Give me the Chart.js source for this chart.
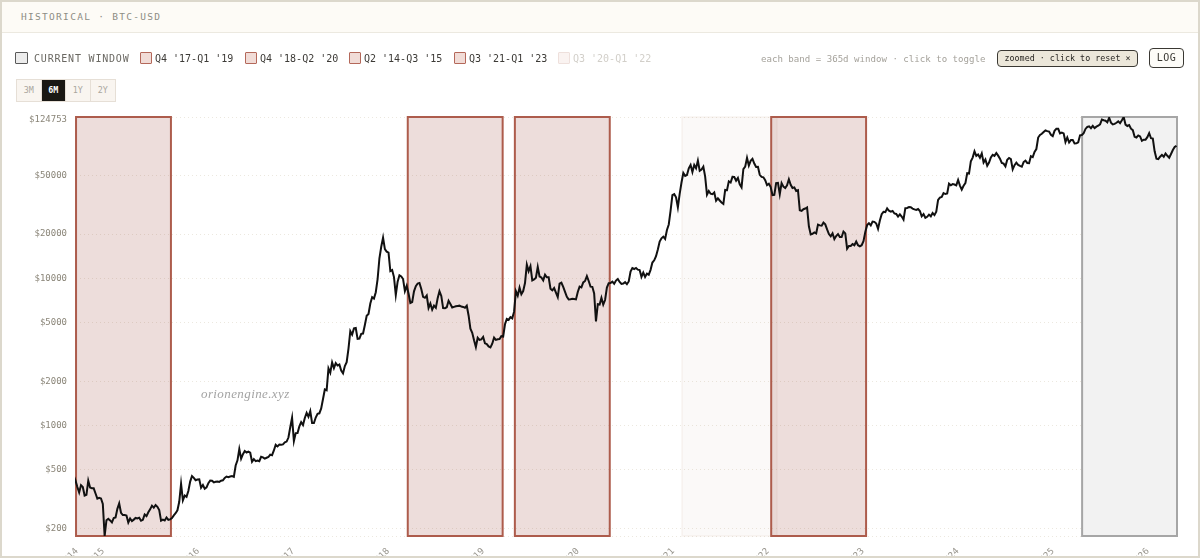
<!DOCTYPE html>
<html>
<head>
<meta charset="utf-8">
<script src="https://cdn.jsdelivr.net/npm/chart.js@4/dist/chart.umd.min.js"></script>
<style>
    html, body { margin: 0; padding: 0; background: #fff; }
    #card { position: relative; width: 1200px; height: 558px; overflow: hidden; background: #fff; font-family: "DejaVu Sans Mono", monospace; }
    #frame { position: absolute; left: 0; top: 0; width: 1196px; height: 554px; border: 2px solid #dcd8cc; pointer-events: none; }
    #head { position: absolute; left: 0; top: 0; width: 1200px; height: 32px; background: #fdfbf6; border-bottom: 1px solid #ece9e0; }
    #head span { position: absolute; left: 21px; top: 11px; font-size: 9.5px; letter-spacing: 1.3px; color: #8d8d84; }
    canvas { position: absolute; left: 0; top: 0; }
    .swatch { position: absolute; top: 52px; width: 10px; height: 10px; border: 1.5px solid #b4685a; background: #f1dcd7; border-radius: 1px; }
    .name { position: absolute; top: 53px; font-size: 10px; line-height: 12px; color: #3c3a36; white-space: nowrap; }
    #note { position: absolute; left: 761px; top: 53px; font-size: 9.1px; line-height: 12px; color: #a5a29b; white-space: nowrap; }
    #chip { position: absolute; left: 997px; top: 50px; width: 139px; height: 15px; line-height: 15px; text-align: center; font-size: 8.4px; color: #2a2824; background: #ece7da; border: 1.5px solid #3a3833; border-radius: 4px; white-space: nowrap; }
    #log { position: absolute; left: 1149px; top: 48px; width: 33px; height: 18px; line-height: 18px; text-align: center; font-size: 10px; letter-spacing: .4px; color: #3a3833; background: #fdfcf8; border: 1px solid #3a3833; border-radius: 4px; }
    #ranges { position: absolute; left: 16px; top: 79px; height: 21px; display: flex; border: 1px solid #e6dfd6; background: #f9f5f0; }
    #ranges div { width: 24.5px; box-sizing: border-box; line-height: 21px; text-align: center; font-size: 8.4px; color: #aaa69e; border-right: 1px solid #e6dfd6; }
    #ranges div:last-child { border-right: 0; }
    #ranges div.on { background: #1a1814; color: #fff; font-weight: bold; }
    #mark { position: absolute; left: 201px; top: 386px; font-family: "Liberation Serif", serif; font-style: italic; font-size: 13px; letter-spacing: .4px; color: #a3a3a3; white-space: nowrap; }
</style>
</head>
<body>
<div id="card">
    <div id="head"><span>HISTORICAL · BTC-USD</span></div>
    <canvas id="chart" width="1200" height="558"></canvas>
    <div id="legend"></div>
    <div id="note">each band = 365d window · click to toggle</div>
    <div id="chip">zoomed · click to reset ×</div>
    <div id="log">LOG</div>
    <div id="ranges"></div>
    <div id="mark">orionengine.xyz</div>
    <div id="frame"></div>
</div>
<script>
// weekly closes, first one is 2014-09-17
const prices2014 = [457, 423, 383, 352, 394, 383, 335, 339, 423, 380, 375, 375, 346, 319, 323, 320];
const prices2015 = [294, 178, 228, 233, 227, 220, 236, 238, 272, 296, 256, 247, 247, 245, 220, 234, 225, 230, 236, 234, 237, 226, 229, 249, 243, 258, 270, 286, 277, 289, 281, 267, 226, 230, 227, 238, 229, 231, 236, 246, 254, 266, 304, 403, 311, 335, 328, 360, 417, 454, 442, 426];
const prices2016 = [431, 432, 379, 395, 373, 381, 407, 424, 422, 412, 416, 418, 415, 423, 425, 441, 451, 447, 451, 454, 449, 536, 581, 694, 596, 640, 672, 657, 666, 655, 568, 592, 574, 580, 573, 614, 609, 597, 605, 612, 636, 630, 678, 742, 723, 744, 741, 746, 769, 779, 830, 975];
const prices2017 = [1130, 785, 890, 892, 988, 1055, 1010, 1126, 1222, 1150, 1255, 1040, 1040, 1135, 1203, 1212, 1308, 1515, 1760, 1740, 2450, 2290, 2690, 2460, 2660, 2560, 2600, 2370, 2270, 2540, 2700, 3340, 4380, 4150, 4570, 4600, 3880, 3900, 4200, 4220, 4820, 5570, 5730, 6750, 7460, 7300, 8060, 9890, 13700, 16400, 18900, 15800];
const prices2018 = [15200, 14970, 11200, 11400, 10200, 7700, 9500, 10500, 10300, 9900, 8200, 8900, 7900, 6800, 6900, 8170, 8860, 9230, 9300, 8460, 7500, 7380, 7650, 6300, 6750, 6130, 6530, 6310, 7320, 8170, 7600, 6280, 6270, 6370, 7050, 6700, 6340, 6400, 6460, 6500, 6530, 6440, 6400, 6320, 6520, 5600, 4550, 4270, 3800, 3420, 3950, 3820];
const prices2019 = [3850, 4000, 3620, 3580, 3450, 3400, 3600, 3960, 3820, 3860, 3870, 4050, 4030, 4880, 5310, 5230, 5460, 5350, 5940, 8190, 7630, 8650, 7800, 8200, 9300, 12400, 11200, 12100, 9680, 9840, 10100, 11950, 10300, 10140, 9700, 10600, 10160, 10160, 8500, 8300, 8600, 8000, 7460, 9200, 9340, 8760, 8100, 7500, 7200, 7220, 7280, 7240];
const prices2020 = [7200, 8080, 8800, 8680, 9390, 9600, 10350, 9600, 8790, 8760, 7900, 5100, 6680, 6640, 7370, 6640, 7130, 8660, 9270, 9300, 9500, 9200, 9660, 9890, 9450, 9170, 9230, 9430, 9130, 9530, 11110, 11750, 11580, 11770, 11470, 11400, 10240, 10950, 10240, 10780, 10600, 11430, 12820, 13270, 14150, 15700, 17800, 18730, 19220, 18550, 21300, 23240, 28840];
const prices2021 = [36800, 37400, 35500, 30400, 37500, 44800, 52000, 49700, 50400, 55900, 58900, 52800, 58900, 56000, 63100, 53800, 54900, 57400, 49100, 37000, 39200, 37600, 37300, 38300, 33700, 35000, 33800, 32800, 32100, 39900, 39700, 45600, 44800, 48900, 48800, 46000, 48100, 43500, 41500, 55300, 57400, 65900, 58400, 62900, 64900, 60300, 57100, 57200, 50500, 48900, 48600, 46400];
const prices2022 = [43000, 43900, 41700, 36800, 36900, 44400, 44600, 37300, 44400, 42000, 41100, 42900, 47100, 43200, 41100, 41500, 39200, 39700, 29000, 28700, 29500, 29800, 30300, 22600, 19900, 20100, 20500, 20200, 23200, 22900, 22800, 23900, 23300, 21500, 20000, 19300, 20200, 18500, 19400, 20000, 19100, 19100, 20800, 20200, 15900, 16600, 16600, 17100, 16800, 17800, 16800, 16500];
const prices2023 = [16800, 17900, 20700, 23000, 23700, 22900, 24300, 24200, 23600, 21700, 24700, 27300, 28300, 28200, 29900, 28800, 28400, 28700, 27600, 27400, 26300, 27200, 26300, 25100, 30000, 30100, 30500, 30400, 29800, 29400, 29200, 29600, 28700, 26400, 27300, 25800, 26200, 27100, 26400, 27800, 26900, 28400, 34100, 35400, 35700, 37900, 37400, 37700, 44000, 42900, 43700, 43400];
const prices2024 = [42800, 46600, 42700, 40100, 42600, 44300, 51800, 51500, 62500, 66100, 73000, 67900, 69400, 65900, 70600, 61300, 64300, 58200, 61200, 66200, 69100, 67900, 71000, 68200, 65000, 60800, 60200, 57700, 64000, 65700, 64600, 55000, 58700, 61100, 59000, 58000, 57300, 61700, 63100, 60800, 60600, 67600, 66700, 72300, 75600, 90500, 94300, 95900, 98700, 101100, 100000, 99300];
const prices2025 = [94500, 92500, 100500, 103700, 103700, 96600, 97800, 96600, 84400, 90600, 83700, 86900, 86900, 82500, 82600, 84000, 93700, 94200, 97000, 103500, 106800, 107800, 104800, 108700, 104900, 107300, 108900, 111300, 119900, 118500, 117800, 114900, 123300, 114300, 111200, 112000, 114000, 116500, 113300, 118600, 124753, 110800, 108400, 110000, 103900, 101500, 91500, 90500, 93500, 92000, 86000, 87500, 87500];
const prices2026 = [91000, 96900, 89500, 89000, 73000, 65000, 64500, 67000, 69000, 67000, 70500, 68000, 66000, 70000, 74500, 78000, 79500];

const yTicks = [178, 200, 500, 1000, 2000, 5000, 10000, 20000, 50000, 124753];
const xYears = [2015, 2016, 2017, 2018, 2019, 2020, 2021, 2022, 2023, 2024, 2025, 2026];

const bandLabels = ["Q2 '14-Q3 '15", "Q4 '17-Q1 '19", "Q4 '18-Q2 '20", "Q3 '20-Q1 '22", "Q3 '21-Q1 '23", "CURRENT WINDOW"];
const bandStarts = ['2014-09-26', '2018-03-25', '2019-05-11', '2021-02-12', '2022-01-21', '2025-05-01'];
const bandKinds = ['red', 'red', 'red', 'faded', 'red', 'current'];
const legendOrder = [5, 1, 2, 0, 4, 3];
const rangeLabels = ['3M', '6M', '1Y', '2Y'];

const DAY = 24 * 3600 * 1000;
const closes = [].concat(prices2014, prices2015, prices2016, prices2017, prices2018, prices2019, prices2020, prices2021, prices2022, prices2023, prices2024, prices2025, prices2026);
const firstDate = Date.UTC(2014, 8, 17);
const points = closes.map((price, i) => ({ x: firstDate + i * 7 * DAY, y: price }));

const xMin = Date.UTC(2014, 8, 22);
const xMax = Date.UTC(2026, 4, 1);
const yMax = yTicks[yTicks.length - 1];

const bandStyles = {
    red: { fill: 'rgba(158, 72, 62, 0.19)', stroke: '#ad5c4c' },
    faded: { fill: 'rgba(190, 150, 130, 0.06)', stroke: 'rgba(190, 150, 130, 0.08)' },
    current: { fill: '#f2f2f2', stroke: '#a6a6a6' }
};

const bandsPlugin = {
    id: 'bands',
    beforeDatasetsDraw(chart) {
        const { ctx, chartArea, scales } = chart;
        bandStarts.forEach((start, i) => {
            const from = Date.parse(start);
            const left = scales.x.getPixelForValue(from);
            const right = scales.x.getPixelForValue(from + 365 * DAY);
            const style = bandStyles[bandKinds[i]];
            ctx.save();
            ctx.fillStyle = style.fill;
            ctx.strokeStyle = style.stroke;
            ctx.lineWidth = 2;
            ctx.fillRect(left, chartArea.top, right - left, chartArea.bottom - chartArea.top);
            ctx.strokeRect(left, chartArea.top, right - left, chartArea.bottom - chartArea.top);
            ctx.restore();
        });
    }
};

new Chart(document.getElementById('chart'), {
    type: 'line',
    data: {
        datasets: [{
            data: points,
            borderColor: '#111',
            borderWidth: 2,
            pointRadius: 0,
            tension: 0
        }]
    },
    plugins: [bandsPlugin],
    options: {
        responsive: false,
        animation: false,
        devicePixelRatio: 1,
        layout: { padding: { top: 117, right: 23 } },
        plugins: { legend: { display: false }, tooltip: { enabled: false } },
        scales: {
            x: {
                type: 'linear',
                min: xMin,
                max: xMax,
                afterBuildTicks: scale => {
                    scale.ticks = [{ value: xMin }].concat(xYears.map(year => ({ value: Date.UTC(year, 0, 1) })));
                },
                afterFit: scale => { scale.height = 22; },
                grid: { display: false },
                border: { display: false },
                ticks: {
                    autoSkip: false,
                    minRotation: 45,
                    maxRotation: 45,
                    padding: 2,
                    labelOffset: 2,
                    color: '#97948c',
                    font: { family: 'DejaVu Sans Mono', size: 9 },
                    callback: value => String(new Date(value).getUTCFullYear())
                }
            },
            y: {
                type: 'logarithmic',
                min: yTicks[0],
                max: yMax,
                afterBuildTicks: scale => {
                    scale.ticks = yTicks.map(value => ({ value: value }));
                },
                afterFit: scale => { scale.width = 75; },
                grid: { color: '#ece8df', drawTicks: false },
                border: { color: '#e2ddd4', dash: [1, 3] },
                ticks: {
                    autoSkip: false,
                    padding: 8,
                    color: '#8a8578',
                    // top label sits a little under its line, two lines of 6px push it down 3px
                    font: ctx => ({ family: 'DejaVu Sans Mono', size: 9, lineHeight: ctx.tick && ctx.tick.value === yMax ? '6px' : 1.2 }),
                    callback: value => {
                        if (value === yTicks[0]) return '';
                        return value === yMax ? ['', '$' + value] : '$' + value;
                    }
                }
            }
        }
    }
});

// legend and range buttons
const legendLefts = [15, 140, 245, 349, 454, 558];
const legend = document.getElementById('legend');
legendOrder.forEach((bandIndex, i) => {
    const kind = bandKinds[bandIndex];
    const swatch = document.createElement('div');
    swatch.className = 'swatch';
    swatch.style.left = legendLefts[i] + 'px';
    const name = document.createElement('div');
    name.className = 'name';
    name.textContent = bandLabels[bandIndex];
    name.style.left = (legendLefts[i] + (kind === 'current' ? 19 : 15)) + 'px';
    if (kind === 'current') {
        swatch.style.width = '11px';
        swatch.style.height = '10px';
        swatch.style.borderColor = '#5a5a5a';
        swatch.style.background = '#ececec';
        name.style.letterSpacing = '.8px';
        name.style.color = '#6a6862';
    }
    if (kind === 'faded') {
        swatch.style.borderColor = '#eee0dc';
        swatch.style.background = '#faf3f1';
        name.style.color = '#d2cfc9';
    }
    legend.appendChild(swatch);
    legend.appendChild(name);
});

const ranges = document.getElementById('ranges');
rangeLabels.forEach(label => {
    const button = document.createElement('div');
    button.textContent = label;
    if (label === '6M') button.className = 'on';
    ranges.appendChild(button);
});
</script>
</body>
</html>
